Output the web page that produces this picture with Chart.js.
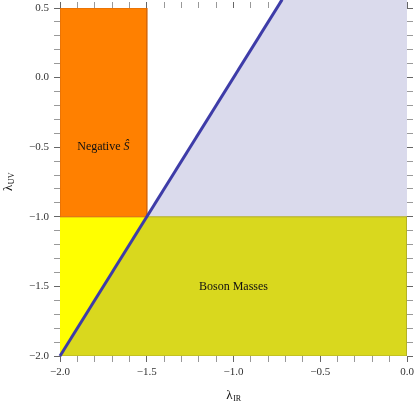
<!DOCTYPE html>
<html>
<head>
<meta charset="utf-8">
<script src="https://cdn.jsdelivr.net/npm/chart.js@4"></script>
<style>
  body { margin: 0; background: #fff; }
  #wrap { width: 415px; height: 403px; }
</style>
</head>
<body>
<div id="wrap"><canvas id="myChart"></canvas></div>
<script>
 // rangos de los ejes
 var xRange = [-2.0, 0.0];
 var yRange = [-2.0, 0.5];
 var xTickLabels = [-2.0, -1.5, -1.0, -0.5, 0.0];
 var yTickLabels = [-2.0, -1.5, -1.0, -0.5, 0.0, 0.5];

 // regiones (vértices de cada polígono)
 var negativeSRegion = [{x: -2, y: -1}, {x: -2, y: 0.5}, {x: -1.5, y: 0.5}, {x: -1.5, y: -1}, {x: -2, y: -1}];
 var yellowRegion = [{x: -2, y: -2}, {x: -2, y: -1}, {x: -1.5, y: -1}];
 var bosonRegion = [{x: -2, y: -2}, {x: -1.5, y: -1}, {x: 0, y: -1}, {x: 0, y: -2}, {x: -2, y: -2}];
 var upperRegion = [{x: -1.5, y: -1}, {x: -0.72, y: 0.56}, {x: 0, y: 0.56}, {x: 0, y: -1}];
 // frontera  lambda_UV = 2 lambda_IR + 2
 var boundaryLine = [{x: -2, y: -2}, {x: -0.72, y: 0.56}];

 // marcas menores cada 0.1
 function minorTicks(a, b) {
   var t = [];
   for (var i = Math.round(a * 10); i <= Math.round(b * 10); i++) t.push({value: i / 10});
   return t;
 }
 function isMajor(v, list) {
   return list.some(function (m) { return Math.abs(m - v) < 1e-6; });
 }
 function fmt(v) {
   var s = Math.abs(v).toFixed(1);
   return v < -1e-9 ? '\u2212' + s : s;
 }

 var tickFont = {family: 'Liberation Serif', size: 11};

 // relleno de polígonos (sin recorte, para que suba por encima del área)
 var polygonFill = {
   id: 'polygonFill',
   beforeDatasetsDraw: function (chart) {
     var ctx = chart.ctx;
     chart.data.datasets.forEach(function (ds, i) {
       if (!ds.areaColor) return;
       var pts = chart.getDatasetMeta(i).data;
       ctx.save();
       ctx.beginPath();
       pts.forEach(function (p, k) { k ? ctx.lineTo(p.x, p.y) : ctx.moveTo(p.x, p.y); });
       ctx.closePath();
       ctx.fillStyle = ds.areaColor;
       ctx.fill();
       ctx.restore();
     });
   }
 };

 // textos: etiquetas de regiones y títulos con subíndice
 var labelsPlugin = {
   id: 'labelsPlugin',
   afterDatasetsDraw: function (chart) {
     var ctx = chart.ctx, sx = chart.scales.x, sy = chart.scales.y;
     ctx.save();
     ctx.fillStyle = '#111';
     ctx.textBaseline = 'middle';

     // Negative Ŝ
     var x1 = sx.getPixelForValue(-1.75), y1 = sy.getPixelForValue(-0.5);
     var a = 'Negative ';
     ctx.font = 'italic 12px "Liberation Serif"';
     var wb = ctx.measureText('\u015C').width;
     ctx.font = '12px "Liberation Serif"';
     var wa = ctx.measureText(a).width;
     var start = x1 - (wa + wb) / 2;
     ctx.textAlign = 'left';
     ctx.fillText(a, start, y1);
     ctx.font = 'italic 12px "Liberation Serif"';
     ctx.fillText('\u015C', start + wa, y1);

     // Boson Masses
     ctx.font = '12px "Liberation Serif"';
     ctx.textAlign = 'center';
     ctx.fillText('Boson Masses', sx.getPixelForValue(-1.0), sy.getPixelForValue(-1.5));

     // títulos de ejes
     var area = chart.chartArea;
     function subTitle(main, sub, cx, cy) {
       ctx.textBaseline = 'alphabetic';
       ctx.textAlign = 'left';
       ctx.font = '13px "Liberation Serif"';
       var w1 = ctx.measureText(main).width;
       ctx.font = '8px "Liberation Serif"';
       var w2 = ctx.measureText(sub).width;
       var s = cx - (w1 + w2) / 2;
       ctx.font = '13px "Liberation Serif"';
       ctx.fillText(main, s, cy);
       ctx.font = '8px "Liberation Serif"';
       ctx.fillText(sub, s + w1 + 0.5, cy + 2);
     }
     subTitle('\u03BB', 'IR', (area.left + area.right) / 2, 399);
     ctx.translate(12, (area.top + area.bottom) / 2);
     ctx.rotate(-Math.PI / 2);
     subTitle('\u03BB', 'UV', 0, 0);
     ctx.restore();
   }
 };

 function tickColor(list) {
   return function (c) { return isMajor(c.tick.value, list) ? '#666' : '#999'; };
 }
 // sin relleno extra alrededor de las etiquetas
 function fitH(h) {
   return function (s) { s.height = h; s.paddingLeft = 0; s.paddingRight = 0; };
 }
 function fitW(w) {
   return function (s) { s.width = w; s.paddingTop = 0; s.paddingBottom = 0; };
 }

 var ctx = document.getElementById('myChart').getContext('2d');
 var myChart = new Chart(ctx, {
   type: 'scatter',
   data: {
     datasets: [
       { data: upperRegion, areaColor: 'rgb(218,218,236)', showLine: true, borderWidth: 0, pointRadius: 0, clip: false, order: 5 },
       { data: bosonRegion, areaColor: 'rgb(217,216,30)', showLine: true, borderColor: 'rgb(175,172,40)', borderWidth: 1, pointRadius: 0, order: 4 },
       { data: yellowRegion, areaColor: 'rgb(255,255,0)', showLine: false, pointRadius: 0, order: 3 },
       { data: negativeSRegion, areaColor: 'rgb(255,128,0)', showLine: true, borderColor: 'rgb(215,105,10)', borderWidth: 1, pointRadius: 0, order: 2 },
       { data: boundaryLine, showLine: true, borderColor: 'rgb(62,60,168)', borderWidth: 3, pointRadius: 0, clip: false, order: 0 }
     ]
   },
   options: {
     responsive: true,
     maintainAspectRatio: false,
     animation: false,
     layout: { padding: 0 },
     plugins: { legend: { display: false }, tooltip: { enabled: false } },
     scales: {
       x: {
         type: 'linear', position: 'bottom', min: xRange[0], max: xRange[1],
         afterBuildTicks: function (s) { s.ticks = minorTicks(xRange[0], xRange[1]); },
         afterFit: fitH(47),
         border: { display: false },
         grid: { drawOnChartArea: false, tickLength: 6, tickColor: tickColor(xTickLabels) },
         ticks: { autoSkip: false, maxRotation: 0, padding: 4, font: tickFont, color: '#333',
           callback: function (v) { return isMajor(v, xTickLabels) ? fmt(v) : ''; } }
       },
       x2: {
         type: 'linear', position: 'top', min: xRange[0], max: xRange[1], z: 1,
         afterBuildTicks: function (s) { s.ticks = minorTicks(xRange[0], xRange[1]); },
         afterFit: fitH(8),
         border: { display: false },
         grid: { drawOnChartArea: false, tickLength: 6, tickColor: tickColor(xTickLabels) },
         ticks: { autoSkip: false, maxRotation: 0, padding: 0, callback: function () { return ''; } }
       },
       y: {
         type: 'linear', position: 'left', min: yRange[0], max: yRange[1],
         afterBuildTicks: function (s) { s.ticks = minorTicks(yRange[0], yRange[1]); },
         afterFit: fitW(60),
         border: { display: false },
         grid: { drawOnChartArea: false, tickLength: 6, tickColor: tickColor(yTickLabels) },
         ticks: { autoSkip: false, padding: 5, font: tickFont, color: '#333',
           callback: function (v) { return isMajor(v, yTickLabels) ? fmt(v) : ''; } }
       },
       y2: {
         type: 'linear', position: 'right', min: yRange[0], max: yRange[1], z: 1,
         afterBuildTicks: function (s) { s.ticks = minorTicks(yRange[0], yRange[1]); },
         afterFit: fitW(8),
         border: { display: false },
         grid: { drawOnChartArea: false, tickLength: 6, tickColor: tickColor(yTickLabels) },
         ticks: { autoSkip: false, padding: 0, callback: function () { return ''; } }
       }
     }
   },
   plugins: [polygonFill, labelsPlugin]
 });
</script>
</body>
</html>
